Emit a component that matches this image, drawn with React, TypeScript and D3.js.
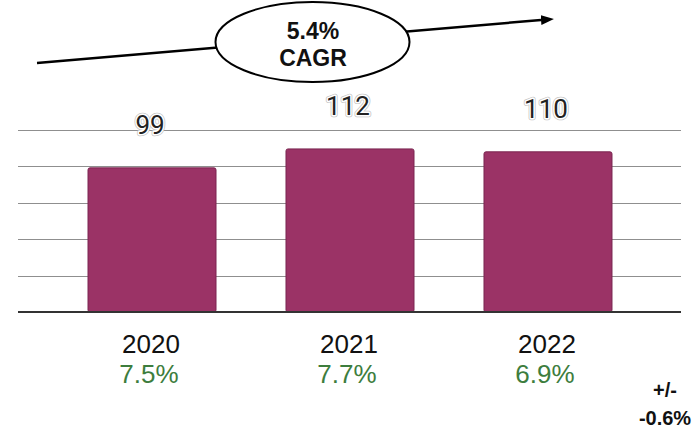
import React from "react";
import * as d3 from "d3";

const categories = ["2020", "2021", "2022"];
const values = [99, 112, 110];
const growth = ["7.5%", "7.7%", "6.9%"];
const gridTicks = [25, 50, 75, 100, 125];
const cagrLines = ["5.4%", "CAGR"];
const deltaLines = ["+/-", "-0.6%"];

const W = 700;
const H = 429;

export default function App() {
  const x = d3
    .scaleBand<string>()
    .domain(categories)
    .range([53, 647])
    .paddingInner(0.3535)
    .paddingOuter(0.1768);
  const y = d3.scaleLinear().domain([0, 125]).range([312, 130]);

  const lineStart: [number, number] = [37, 63];
  const lineEnd: [number, number] = [541, 20];
  const lineGen = d3.line();

  return (
    <div style={{ position: "absolute", left: 0, top: 0 }}>
      <svg width={W} height={H} style={{ display: "block", background: "#fff" }}>
        <defs>
          <marker
            id="arrow"
            viewBox="0 0 13 10"
            refX="0"
            refY="5"
            markerWidth="13"
            markerHeight="10"
            markerUnits="userSpaceOnUse"
            orient="auto"
          >
            <path d="M0,0 L13,5 L0,10 Z" fill="#000" />
          </marker>
        </defs>

        {/* gridlines */}
        {gridTicks.map((t) => (
          <line
            key={t}
            x1={18}
            x2={681}
            y1={Math.round(y(t)) + 0.5}
            y2={Math.round(y(t)) + 0.5}
            stroke="#8f8f8f"
            strokeWidth={1}
          />
        ))}

        {/* bars */}
        {categories.map((c, i) => (
          <rect
            key={c}
            x={x(c)}
            y={y(values[i])}
            width={x.bandwidth()}
            height={y(0) - y(values[i])}
            rx={2}
            fill="#9b3366"
            stroke="#7a2550"
            strokeWidth={1}
          />
        ))}

        {/* baseline */}
        <line x1={18} x2={681} y1={y(0)} y2={y(0)} stroke="#333" strokeWidth={2} />

        {/* value labels with halo */}
        {categories.map((c, i) => {
          const cx = (x(c) as number) + x.bandwidth() / 2 - 2;
          const cy = y(values[i]) - 34;
          const common = {
            x: cx,
            y: cy,
            textAnchor: "middle" as const,
            fontFamily: "Roboto, sans-serif",
            fontSize: 26,
          };
          return (
            <g key={c}>
              <text {...common} fill="none" stroke="#c4c4c4" strokeWidth={4.5} strokeLinejoin="round">
                {values[i]}
              </text>
              <text {...common} fill="none" stroke="#fff" strokeWidth={3} strokeLinejoin="round">
                {values[i]}
              </text>
              <text {...common} fill="#222">
                {values[i]}
              </text>
            </g>
          );
        })}

        {/* year labels */}
        {categories.map((c) => (
          <text
            key={c}
            x={(x(c) as number) + x.bandwidth() / 2 - 1}
            y={353}
            textAnchor="middle"
            fontFamily="'Liberation Sans', Arial, sans-serif"
            fontSize={26}
            fill="#111"
          >
            {c}
          </text>
        ))}

        {/* growth labels */}
        {categories.map((c, i) => (
          <text
            key={c}
            x={(x(c) as number) + x.bandwidth() / 2 - 3}
            y={383}
            textAnchor="middle"
            fontFamily="'Liberation Sans', Arial, sans-serif"
            fontSize={26}
            fill="#3d7d3d"
          >
            {growth[i]}
          </text>
        ))}

        {/* delta */}
        {deltaLines.map((t, i) => (
          <text
            key={t}
            x={665}
            y={397 + i * 28}
            textAnchor="middle"
            fontFamily="'Liberation Sans', Arial, sans-serif"
            fontWeight="bold"
            fontSize={20}
            fill="#111"
          >
            {t}
          </text>
        ))}

        {/* CAGR arrow */}
        <path
          d={lineGen([lineStart, lineEnd]) as string}
          stroke="#000"
          strokeWidth={2.5}
          fill="none"
          markerEnd="url(#arrow)"
        />
        <ellipse cx={312.5} cy={42} rx={97} ry={40} fill="#fff" stroke="#000" strokeWidth={2} />
        {cagrLines.map((t, i) => (
          <text
            key={t}
            x={313}
            y={39 + i * 27}
            textAnchor="middle"
            fontFamily="'Liberation Sans', Arial, sans-serif"
            fontWeight="bold"
            fontSize={23}
            fill="#111"
          >
            {t}
          </text>
        ))}
      </svg>
    </div>
  );
}
